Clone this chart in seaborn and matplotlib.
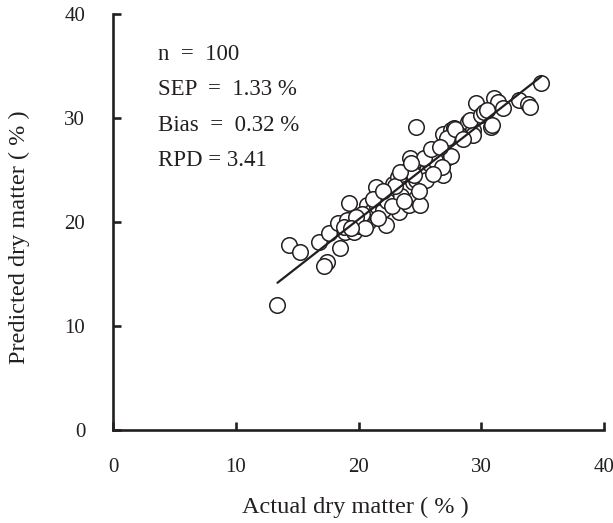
import matplotlib
matplotlib.use("Agg")
import matplotlib.pyplot as plt
import seaborn as sns
import pandas as pd

# Actual vs predicted dry matter (%)
actual = [13.4, 14.3, 15.2, 16.8, 17.4, 17.2, 17.6, 18.5, 18.3, 18.9,
          19.2, 19.1, 19.6, 20.0, 20.6, 20.7, 20.8, 21.0, 21.4, 21.5,
          22.0, 22.2, 22.5, 22.8, 23.0, 23.2, 23.3, 23.6, 23.8, 24.1,
          24.2, 24.4, 24.7, 24.7, 24.7, 24.8, 25.0, 25.2, 25.6, 25.7,
          26.0, 26.3, 26.4, 26.5, 26.9, 27.0, 27.1, 26.9, 27.5, 27.8,
          28.0, 28.9, 29.3, 29.1, 29.3, 29.6, 30.0, 30.2, 30.8, 30.9,
          31.0, 31.4, 31.8, 33.1, 33.8, 34.0, 34.9,
          21.8, 22.3, 23.5, 24.0, 25.5, 25.8, 26.2, 23.0, 20.3, 19.8,
          18.8, 21.2, 24.5, 27.5, 26.8, 28.3, 27.2, 22.7, 24.9, 25.3,
          21.6, 20.5, 27.9, 30.5, 25.9, 26.6, 23.4, 19.4, 22.0, 24.3,
          28.5, 26.1, 23.7]
predicted = [12.0, 17.8, 17.1, 18.1, 16.2, 15.8, 18.9, 17.5, 19.9, 19.0,
             21.8, 20.2, 19.0, 19.6, 19.9, 21.6, 20.0, 21.0, 23.4, 21.5,
             21.2, 19.7, 22.3, 23.7, 22.8, 24.3, 21.0, 24.0, 23.2, 21.6,
             26.2, 23.8, 22.3, 29.1, 24.0, 25.5, 21.6, 24.6, 25.0, 26.3,
             25.7, 26.6, 25.2, 26.8, 24.5, 26.0, 26.2, 28.5, 28.8, 29.0,
             28.6, 29.6, 28.8, 29.8, 28.4, 31.4, 30.3, 30.6, 29.1, 29.3,
             31.9, 31.5, 31.0, 31.7, 31.3, 31.1, 33.4,
             22.4, 22.0, 22.5, 25.0, 24.0, 25.6, 26.0, 23.5, 20.8, 20.5,
             19.5, 22.2, 24.5, 26.3, 25.3, 28.3, 28.1, 21.5, 23.0, 26.2,
             20.4, 19.4, 28.9, 30.8, 27.0, 27.2, 24.8, 19.4, 23.0, 25.7,
             28.0, 24.6, 22.0]

stats_lines = ["n  =  100", "SEP  =  1.33 %", "Bias  =  0.32 %", "RPD = 3.41"]
tick_values = [0, 10, 20, 30, 40]
x_label = "Actual dry matter ( % )"
y_label = "Predicted dry matter ( % )"

df = pd.DataFrame({"actual": actual, "predicted": predicted})

sns.set_style("white")
plt.rcParams["font.family"] = ["Liberation Serif", "DejaVu Serif"]

ink = "#231f20"
fig = plt.figure(figsize=(6.13, 5.23), dpi=100)
ax = fig.add_axes([113 / 613, 93 / 523, 491 / 613, 416 / 523])

sns.scatterplot(data=df, x="actual", y="predicted", ax=ax, s=125,
                color="white", edgecolor=ink, linewidth=1.1, zorder=2,
                legend=False)
sns.regplot(data=df, x="actual", y="predicted", ax=ax, scatter=False,
            ci=None, truncate=True,
            line_kws=dict(color=ink, lw=1.6, zorder=3))

ax.set_xlim(0, 40)
ax.set_ylim(0, 40)
ax.set_xticks(tick_values)
ax.set_yticks(tick_values)
ax.set_xticklabels([str(v) for v in tick_values])
ax.set_yticklabels([str(v) for v in tick_values])

for side in ["top", "right"]:
    ax.spines[side].set_visible(False)
for side in ["left", "bottom"]:
    ax.spines[side].set_linewidth(1.9)
    ax.spines[side].set_color(ink)

ax.tick_params(bottom=True, left=True, direction="in", length=5.5,
               width=1.9, color=ink, pad=20, labelsize=15, labelcolor=ink)

ax.set_xlabel(x_label, fontsize=17.5, color=ink)
ax.set_ylabel(y_label, fontsize=17.5, color=ink)
ax.xaxis.set_label_coords(0.493, -0.16)
ax.yaxis.set_label_coords(-0.17, 0.464)

y0 = 0.903
for i, line in enumerate(stats_lines):
    ax.text(0.092, y0 - i * 0.085, line, transform=ax.transAxes,
            fontsize=16.5, color=ink, va="center", ha="left")

fig.savefig("out.png", dpi=100)
